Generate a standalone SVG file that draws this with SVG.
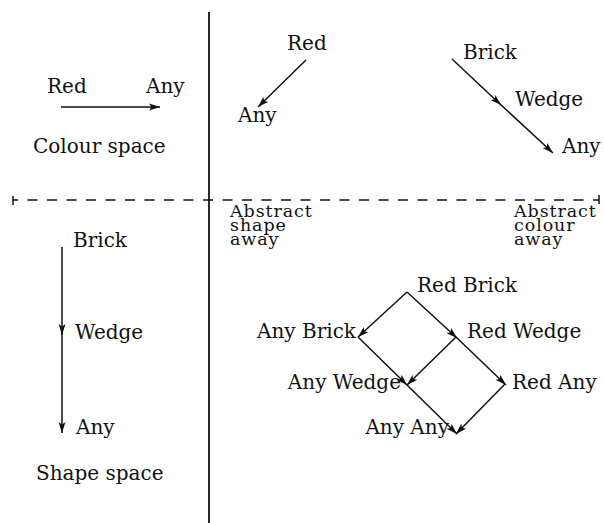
<svg xmlns="http://www.w3.org/2000/svg" width="604" height="523" viewBox="0 0 604 523">
<defs>
<style>
text{font-family:"DejaVu Serif","Liberation Serif",serif;font-size:20px;fill:#111}
.ab{font-size:17.5px;letter-spacing:0.9px}
.e{text-anchor:end}
.ln{stroke:#111;stroke-width:1.5;fill:none}
.arr{marker-end:url(#ah)}
</style>
<marker id="ah" markerUnits="userSpaceOnUse" markerWidth="12" markerHeight="8" refX="11" refY="4" orient="auto">
<path d="M0,0.5 L11,4 L0,7.5 L2.5,4 Z" fill="#111"/>
</marker>
</defs>
<rect width="604" height="523" fill="#fff"/>
<g id="dividers">
<line x1="209" y1="12" x2="209" y2="523" stroke="#111" stroke-width="1.8"/>
<line x1="13" y1="200" x2="599" y2="200" stroke="#111" stroke-width="1.5" stroke-dasharray="10 9.5" stroke-dashoffset="5"/>
<line x1="13" y1="196" x2="13" y2="205" stroke="#111" stroke-width="1.5"/>
<line x1="599" y1="195" x2="599" y2="204" stroke="#111" stroke-width="1.5"/>
</g>
<g id="connectors">
<line class="ln arr" x1="61" y1="107" x2="160" y2="107"/>
<line class="ln arr" x1="306" y1="60" x2="258" y2="107"/>
<line class="ln arr" x1="452" y1="59" x2="501" y2="105"/>
<line class="ln arr" x1="500" y1="104" x2="553" y2="153"/>
<line class="ln arr" x1="62" y1="247" x2="62" y2="335"/>
<line class="ln arr" x1="62" y1="333" x2="62" y2="433"/>
<line class="ln arr" x1="407" y1="292" x2="358" y2="337"/>
<line class="ln arr" x1="407" y1="292" x2="457" y2="338"/>
<line class="ln arr" x1="358" y1="337" x2="407" y2="385"/>
<line class="ln arr" x1="456" y1="337" x2="407" y2="385"/>
<line class="ln arr" x1="456" y1="337" x2="506" y2="385"/>
<line class="ln arr" x1="407" y1="385" x2="457" y2="434"/>
<line class="ln arr" x1="505" y1="384" x2="456" y2="434"/>
</g>
<g id="colour-red"><text x="47" y="93">Red</text></g>
<g id="colour-any"><text x="146" y="93">Any</text></g>
<g id="colour-space-label"><text x="33" y="153">Colour space</text></g>
<g id="abs-red"><text x="287" y="50">Red</text></g>
<g id="abs-any"><text x="238" y="122">Any</text></g>
<g id="abs-brick"><text x="463" y="59">Brick</text></g>
<g id="abs-wedge"><text x="515" y="106">Wedge</text></g>
<g id="abs-anyshape"><text x="562" y="153">Any</text></g>
<g id="abstract-shape-away"><text class="ab" x="230" y="217">Abstract</text><text class="ab" x="230" y="231">shape</text><text class="ab" x="230" y="245">away</text></g>
<g id="abstract-colour-away"><text class="ab" x="514" y="217">Abstract</text><text class="ab" x="514" y="231">colour</text><text class="ab" x="514" y="245">away</text></g>
<g id="shape-brick"><text x="73" y="247">Brick</text></g>
<g id="shape-wedge"><text x="75" y="339">Wedge</text></g>
<g id="shape-any"><text x="76" y="434">Any</text></g>
<g id="shape-space-label"><text x="36" y="480">Shape space</text></g>
<g id="red-brick"><text x="417" y="292">Red Brick</text></g>
<g id="any-brick"><text class="e" x="356" y="338">Any Brick</text></g>
<g id="red-wedge"><text x="467" y="338">Red Wedge</text></g>
<g id="any-wedge"><text class="e" x="401" y="389">Any Wedge</text></g>
<g id="red-any"><text x="512" y="389">Red Any</text></g>
<g id="any-any"><text class="e" x="449" y="434">Any Any</text></g>
</svg>
